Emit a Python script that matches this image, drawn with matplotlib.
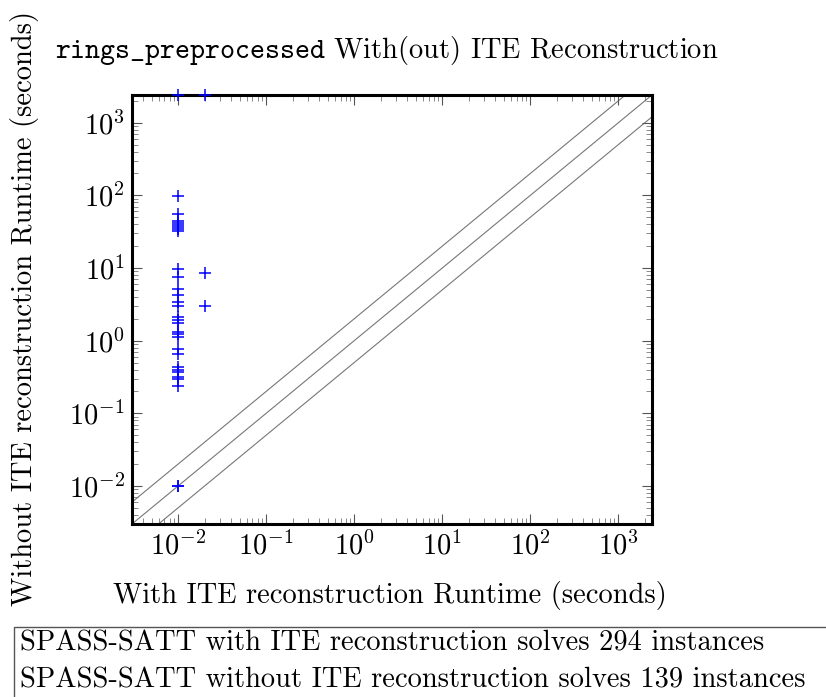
import matplotlib
matplotlib.use("Agg")
import matplotlib.pyplot as plt
from matplotlib.patches import Rectangle
import numpy as np

plt.rcParams['font.family'] = ['cmr10', 'DejaVu Serif']
plt.rcParams['mathtext.fontset'] = 'cm'
plt.rcParams['axes.formatter.use_mathtext'] = True

# runtimes (seconds): with ITE reconstruction vs without
timeout = 2400
with_ite = [0.01] * 30 + [0.02, 0.02] + [0.01, 0.02]
without_ite = [98, 55.6, 45, 41.9, 39, 36.4, 34, 31.8,
               9.8, 7.6, 5.2, 4.3, 3.4, 3.0, 2.09, 1.92, 1.77,
               1.33, 1.24, 1.11, 0.76, 0.65, 0.43, 0.40, 0.37,
               0.32, 0.30, 0.24, 0.01, 0.01,
               8.4, 3.0, timeout, timeout]

lo, hi = 0.003, timeout
title_tt = r"$\mathtt{rings\_preprocessed}$"
title_rm = " With(out) ITE Reconstruction"
xlabel = "With ITE reconstruction Runtime (seconds)"
ylabel = "Without ITE reconstruction Runtime (seconds)"
summary = ["SPASS-SATT with ITE reconstruction solves 294 instances",
           "SPASS-SATT without ITE reconstruction solves 139 instances"]

fs = 20.5
fig = plt.figure(figsize=(8.26, 6.97), dpi=100)
ax = fig.add_axes([0.1598, 0.2482, 0.6295, 0.6155])

diag = np.array([lo / 4, hi * 4])
for f in (2, 1, 0.5):
    ax.plot(diag, diag * f, color='#777777', lw=0.8, zorder=1)

ax.plot(with_ite, without_ite, '+', color='blue', ms=8, mew=1.1,
        zorder=3, clip_on=False)

ax.set_xscale('log')
ax.set_yscale('log')
ax.set_xlim(lo, hi)
ax.set_ylim(lo, hi)

ax.tick_params(which='both', direction='in', top=True, right=True,
               labelsize=fs)
ax.tick_params(which='major', length=7, width=0.8, color='#555555', pad=5)
ax.tick_params(which='minor', length=4.5, width=0.6, color='#777777')
for s in ax.spines.values():
    s.set_linewidth(2.2)

fig.text(0.472, 0.146, xlabel, fontsize=fs, ha='center', va='center')
fig.text(0.030, 0.557, ylabel, fontsize=fs, ha='center', va='center',
         rotation=90)

fig.text(0.066, 0.928, title_tt + title_rm, fontsize=fs,
         ha='left', va='center')

fig.patches.append(Rectangle((0.017, -0.1), 1.1, 0.2, transform=fig.transFigure,
                             fill=False, edgecolor='#555555', lw=1.0))
fig.text(0.024, 0.0775, summary[0], fontsize=fs, va='center')
fig.text(0.024, 0.0244, summary[1], fontsize=fs, va='center')

fig.savefig("out.png", dpi=100)
